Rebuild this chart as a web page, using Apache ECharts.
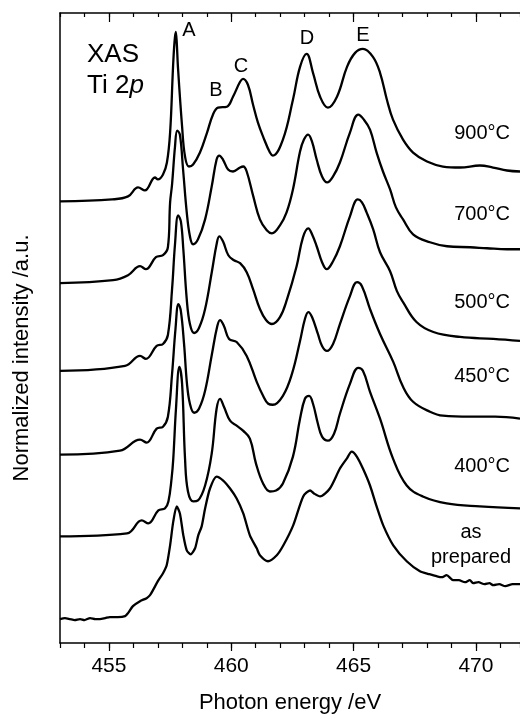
<!DOCTYPE html>
<html><head><meta charset="utf-8">
<script src="https://cdn.jsdelivr.net/npm/echarts@6/dist/echarts.min.js"></script>
<style>html,body{margin:0;padding:0;background:#fff}#c{width:520px;height:719px}</style>
</head><body><div id="c"></div>
<script>
// Photon energy (eV) vs normalized intensity (a.u., curves offset vertically)
const s900 = [[453.00,443],[455.13,445],[455.78,448],[456.19,457],[456.47,454],[456.88,467],[457.00,465],[457.21,470],[457.37,482],[457.50,512],[457.62,578],[457.68,603],[457.73,613],[457.77,603],[457.82,578],[457.99,518],[458.11,488],[458.27,478],[458.44,480],[458.72,492],[459.01,512],[459.25,530],[459.46,537],[459.82,538],[460.07,548],[460.36,563],[460.48,566],[460.68,560],[460.89,540],[461.09,522],[461.30,508],[461.58,492],[461.70,489],[462.11,505],[462.52,545],[462.81,578],[463.08,591],[463.34,572],[463.63,548],[463.95,537],[464.32,548],[464.73,578],[465.06,592],[465.38,596],[465.79,588],[466.08,572],[466.36,545],[466.61,525],[467.02,505],[467.43,492],[468.00,483],[468.65,478],[469.35,477],[470.16,479],[470.70,477],[471.27,474],[471.80,473]];
const s700 = [[453.00,361],[455.17,364],[455.78,369],[456.27,378],[456.51,375],[456.92,387],[457.21,389],[457.41,397],[457.50,442],[457.58,460],[457.70,498],[457.79,514],[457.90,510],[458.03,475],[458.18,432],[458.31,408],[458.44,400],[458.64,405],[458.93,425],[459.20,458],[459.40,485],[459.51,489],[459.66,485],[459.87,475],[460.07,473],[460.36,477],[460.49,478],[460.63,473],[460.90,448],[461.17,425],[461.45,414],[461.66,411],[461.99,419],[462.26,432],[462.52,455],[462.81,493],[462.97,505],[463.14,510],[463.30,503],[463.49,485],[463.71,468],[463.92,462],[464.16,468],[464.44,482],[464.85,512],[465.19,530],[465.42,525],[465.67,515],[465.94,492],[466.20,473],[466.49,455],[466.73,437],[467.02,425],[467.43,410],[468.12,402],[468.82,398],[469.76,397],[470.45,396],[471.27,395],[471.80,395]];
const s500 = [[453.00,273],[455.66,278],[456.27,288],[456.51,285],[456.95,298],[457.21,300],[457.41,309],[457.58,355],[457.70,400],[457.83,429],[457.94,423],[458.04,395],[458.18,345],[458.31,320],[458.48,311],[458.68,316],[458.93,335],[459.21,373],[459.40,400],[459.51,408],[459.66,403],[459.88,389],[460.11,384],[460.36,381],[460.63,372],[460.89,355],[461.17,335],[461.42,324],[461.66,320],[461.99,327],[462.28,345],[462.67,378],[462.93,407],[463.15,416],[463.30,410],[463.49,398],[463.71,382],[463.90,375],[464.16,383],[464.44,398],[464.85,428],[465.17,445],[465.34,442],[465.53,432],[465.80,415],[466.08,392],[466.49,373],[466.77,353],[467.02,342],[467.57,322],[468.26,312],[469.35,307],[470.71,305],[471.80,303]];
const s450 = [[453.00,189],[455.45,193],[456.27,204],[456.54,201],[456.95,215],[457.21,217],[457.41,227],[457.58,270],[457.72,315],[457.84,340],[457.94,333],[458.07,300],[458.19,260],[458.31,240],[458.48,231],[458.68,235],[458.93,253],[459.21,290],[459.42,317],[459.54,324],[459.70,318],[459.91,305],[460.22,302],[460.63,288],[461.04,262],[461.30,248],[461.51,240],[461.70,239],[462.11,248],[462.48,270],[462.81,303],[463.01,325],[463.15,332],[463.30,327],[463.54,310],[463.71,298],[463.91,293],[464.16,300],[464.44,320],[464.85,348],[465.14,362],[465.34,358],[465.67,335],[466.08,310],[466.62,282],[467.02,257],[467.43,242],[468.12,232],[468.65,228],[469.76,227],[470.78,227],[471.80,225]];
const s400 = [[453.00,107],[455.74,110],[456.34,123],[456.61,120],[457.02,133],[457.29,135],[457.43,142],[457.56,165],[457.63,185],[457.74,235],[457.88,277],[457.99,260],[458.11,185],[458.23,152],[458.45,142],[458.64,143],[458.93,158],[459.20,190],[459.40,235],[459.54,245],[459.70,237],[459.95,223],[460.22,218],[460.48,213],[460.76,205],[461.01,180],[461.30,160],[461.58,152],[461.83,153],[462.11,160],[462.52,187],[462.81,225],[463.01,245],[463.18,248],[463.34,240],[463.54,220],[463.71,207],[463.95,203],[464.20,210],[464.44,230],[464.85,260],[465.19,276],[465.38,273],[465.67,252],[466.08,225],[466.61,185],[467.17,158],[467.83,147],[468.80,140],[470.16,137],[471.80,135]];
const sPrep = [[453.00,24],[453.20,25],[453.41,24],[453.60,23],[453.82,24],[454.00,23],[454.23,25],[454.45,24],[454.63,24],[454.85,25],[455.04,26],[455.37,26],[455.66,27],[455.78,30],[455.98,37],[456.27,42],[456.54,45],[456.68,48],[456.80,53],[457.00,62],[457.21,70],[457.36,78],[457.50,98],[457.63,122],[457.77,137],[457.90,130],[458.04,108],[458.18,93],[458.34,89],[458.52,95],[458.65,108],[458.79,117],[458.93,135],[459.13,155],[459.40,167],[459.67,163],[459.95,155],[460.22,145],[460.49,130],[460.76,108],[461.04,95],[461.17,88],[461.50,82],[461.86,88],[462.13,98],[462.53,118],[462.94,147],[463.22,153],[463.38,150],[463.63,147],[464.03,155],[464.44,175],[464.72,185],[464.92,192],[465.13,187],[465.38,175],[465.67,158],[465.94,137],[466.21,118],[466.62,98],[467.17,82],[467.71,72],[468.10,69],[468.39,67],[468.60,66],[468.80,68],[469.07,63],[469.30,63],[469.55,61],[469.75,63],[469.89,60],[470.10,61],[470.35,59],[470.55,60],[470.71,58],[470.95,59],[471.20,57],[471.50,59],[471.80,59]];

const seriesNames = ['900°C','700°C','500°C','450°C','400°C','as prepared'];
const seriesData = [s900, s700, s500, s450, s400, sPrep];
const seriesSmooth = [0.4, 0.4, 0.4, 0.4, 0.4, 0.25];
const majorTicks = [455, 460, 465, 470];
const xMin = 453, xMax = 471.8;

const FONT = '"Liberation Sans", Arial, Helvetica, sans-serif';
const chart = echarts.init(document.getElementById('c'));

const baseAxis = {type:'value', min:xMin, max:xMax, splitLine:{show:false}, gridIndex:0};
const option = {
  backgroundColor:'#fff',
  animation:false,
  grid:{left:60, right:0, top:13, bottom:74},
  xAxis:[
    Object.assign({}, baseAxis, {position:'bottom', interval:1,
      axisLine:{show:true, lineStyle:{color:'#000', width:1.5}},
      axisTick:{show:true, inside:false, length:5, lineStyle:{color:'#000', width:1.2}},
      axisLabel:{show:false}}),
    Object.assign({}, baseAxis, {position:'bottom',
      axisLine:{show:false},
      axisTick:{show:true, inside:false, length:8, customValues:majorTicks, lineStyle:{color:'#000', width:1.2}},
      axisLabel:{show:true, customValues:majorTicks, margin:13, color:'#000', fontSize:21, fontFamily:FONT},
      name:'Photon energy /eV', nameLocation:'middle', nameGap:49,
      nameTextStyle:{color:'#000', fontSize:22, fontFamily:FONT}}),
    Object.assign({}, baseAxis, {position:'top', interval:1,
      axisLine:{show:true, lineStyle:{color:'#000', width:1.5}},
      axisTick:{show:true, inside:true, length:4, lineStyle:{color:'#000', width:1.2}},
      axisLabel:{show:false}}),
    Object.assign({}, baseAxis, {position:'top',
      axisLine:{show:false},
      axisTick:{show:true, inside:true, length:9, customValues:majorTicks, lineStyle:{color:'#000', width:1.2}},
      axisLabel:{show:false}})
  ],
  yAxis:[{type:'value', min:0, max:632, position:'left',
    axisLine:{show:true, lineStyle:{color:'#000', width:1.5}},
    axisTick:{show:false}, axisLabel:{show:false}, splitLine:{show:false}}],
  series: seriesData.map((d, k) => ({
    name: seriesNames[k], type:'line', xAxisIndex:0, yAxisIndex:0,
    data: d, showSymbol:false, smooth:seriesSmooth[k],
    lineStyle:{color:'#000', width:2.3}, silent:true
  })),
  graphic:[
    {type:'text', x:87, y:55, style:{text:'XAS', font:'26px '+FONT, fill:'#000', textAlign:'left', textVerticalAlign:'middle'}},
    {type:'text', x:87, y:86, style:{text:'Ti 2{i|p}', font:'26px '+FONT, fill:'#000', textAlign:'left', textVerticalAlign:'middle',
      rich:{i:{font:'italic 26px '+FONT, fill:'#000'}}}},
    {type:'text', x:189, y:30, style:{text:'A', font:'20px '+FONT, fill:'#000', textAlign:'center', textVerticalAlign:'middle'}},
    {type:'text', x:216, y:90, style:{text:'B', font:'20px '+FONT, fill:'#000', textAlign:'center', textVerticalAlign:'middle'}},
    {type:'text', x:241, y:66, style:{text:'C', font:'20px '+FONT, fill:'#000', textAlign:'center', textVerticalAlign:'middle'}},
    {type:'text', x:307, y:38, style:{text:'D', font:'20px '+FONT, fill:'#000', textAlign:'center', textVerticalAlign:'middle'}},
    {type:'text', x:363, y:35, style:{text:'E', font:'20px '+FONT, fill:'#000', textAlign:'center', textVerticalAlign:'middle'}},
    {type:'text', x:510, y:133, style:{text:seriesNames[0], font:'20px '+FONT, fill:'#000', textAlign:'right', textVerticalAlign:'middle'}},
    {type:'text', x:510, y:214, style:{text:seriesNames[1], font:'20px '+FONT, fill:'#000', textAlign:'right', textVerticalAlign:'middle'}},
    {type:'text', x:510, y:302, style:{text:seriesNames[2], font:'20px '+FONT, fill:'#000', textAlign:'right', textVerticalAlign:'middle'}},
    {type:'text', x:510, y:376, style:{text:seriesNames[3], font:'20px '+FONT, fill:'#000', textAlign:'right', textVerticalAlign:'middle'}},
    {type:'text', x:510, y:466, style:{text:seriesNames[4], font:'20px '+FONT, fill:'#000', textAlign:'right', textVerticalAlign:'middle'}},
    {type:'text', x:471, y:532, style:{text:'as', font:'20px '+FONT, fill:'#000', textAlign:'center', textVerticalAlign:'middle'}},
    {type:'text', x:471, y:557, style:{text:'prepared', font:'20px '+FONT, fill:'#000', textAlign:'center', textVerticalAlign:'middle'}},
    {type:'text', x:22, y:358, rotation:Math.PI/2, style:{text:'Normalized intensity /a.u.', font:'22px '+FONT, fill:'#000', textAlign:'center', textVerticalAlign:'middle'}}
  ]
};
chart.setOption(option);
</script>
</body></html>
